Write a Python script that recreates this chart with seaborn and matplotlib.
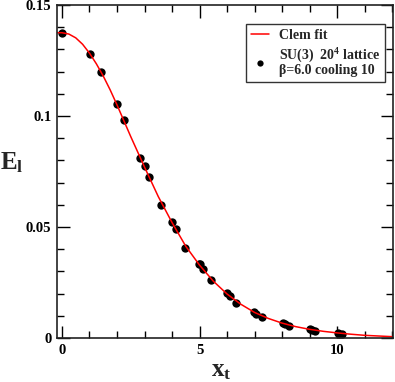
import numpy as np
import pandas as pd
import matplotlib
matplotlib.use("Agg")
import matplotlib.pyplot as plt
from matplotlib.ticker import MultipleLocator
import seaborn as sns

# lattice data
x_t = [0.0, 1.01, 1.43, 1.99, 2.25, 2.84, 3.0, 3.18, 3.61, 3.99, 4.13, 4.48,
       4.97, 5.02, 5.12, 5.4, 6.0, 6.1, 6.34, 6.98, 7.05, 7.28, 8.03, 8.1,
       8.25, 9.02, 9.09, 9.21, 10.02, 10.07, 10.19]
E_l = [0.1373, 0.1281, 0.1198, 0.1052, 0.0984, 0.0811, 0.0775, 0.0725,
       0.0598, 0.0523, 0.0490, 0.0407, 0.0332, 0.0333, 0.0312, 0.0259,
       0.0201, 0.0189, 0.0157, 0.0118, 0.0110, 0.0094, 0.0068, 0.0062,
       0.0054, 0.0039, 0.0036, 0.0030, 0.0023, 0.0020, 0.0018]

# Clem fit curve
fit_x = [-0.2, 0.0, 0.25, 0.5, 0.75, 1.0, 1.25, 1.5, 1.75, 2.0, 2.5, 3.0,
         3.5, 4.0, 4.5, 5.0, 5.5, 6.0, 6.5, 7.0, 7.5, 8.0, 8.5, 9.0, 9.5,
         10.0, 10.5, 11.0, 11.5, 12.0]
fit_y = [0.1375, 0.1375, 0.1369, 0.1352, 0.1323, 0.1283, 0.1235, 0.1180,
         0.1118, 0.1050, 0.0907, 0.0770, 0.0637, 0.0520, 0.0413, 0.0328,
         0.0256, 0.0198, 0.0152, 0.0115, 0.0088, 0.0067, 0.0051, 0.0039,
         0.0030, 0.0023, 0.0017, 0.0012, 0.0009, 0.0006]

pts = pd.DataFrame({"x": x_t, "E": E_l})
fit = pd.DataFrame({"x": fit_x, "E": fit_y})

sns.set_style("ticks")
plt.rcParams["font.family"] = ["Liberation Serif", "DejaVu Serif"]
plt.rcParams["font.weight"] = "bold"
plt.rcParams["mathtext.fontset"] = "custom"
plt.rcParams["mathtext.rm"] = "Liberation Serif:bold"
plt.rcParams["mathtext.bf"] = "Liberation Serif:bold"
plt.rcParams["mathtext.it"] = "Liberation Serif:bold"

fig = plt.figure(figsize=(3.95, 3.82), dpi=100)
ax = fig.add_axes([0.1443, 0.1152, 0.8507, 0.8718])

sns.lineplot(data=fit, x="x", y="E", color="red", linewidth=1.1, ax=ax,
             label="Clem fit")
sns.scatterplot(data=pts, x="x", y="E", color="black", s=36, linewidth=0,
                ax=ax, label="SU(3)  20$^4$ lattice\n\u03b2=6.0 cooling 10")

ax.set_xlim(-0.18, 12.03)
ax.set_ylim(0, 0.15)
ax.xaxis.set_major_locator(MultipleLocator(5))
ax.xaxis.set_minor_locator(MultipleLocator(1))
ax.yaxis.set_major_locator(MultipleLocator(0.05))
ax.yaxis.set_minor_locator(MultipleLocator(0.01))
ax.set_xticks([0, 5, 10])
ax.set_xticklabels(["0", "5", "10"])
ax.set_yticks([0, 0.05, 0.1, 0.15])
ax.set_yticklabels(["0", "0.05", "0.1", "0.15"])
ax.tick_params(which="both", direction="in", top=True, right=True,
               width=1, labelsize=10.5, colors="black")
ax.tick_params(which="major", length=9, pad=4)
ax.tick_params(which="minor", length=5)
for lab in ax.get_xticklabels() + ax.get_yticklabels():
    lab.set_fontweight("bold")
for sp in ax.spines.values():
    sp.set_linewidth(1.2)
    sp.set_color("#222222")

ax.set_xlabel("$\\mathbf{x_t}$", fontsize=18)
ax.set_ylabel("$\\mathbf{E_l}$", fontsize=18, rotation=0)
ax.xaxis.set_label_coords(0.49, -0.065)
ax.yaxis.set_label_coords(-0.135, 0.49)

leg = ax.legend(loc="upper right", bbox_to_anchor=(0.976, 0.943),
                frameon=True, fancybox=False, fontsize=10, handlelength=1.3,
                handletextpad=0.7, borderpad=0.35, labelspacing=0.35,
                borderaxespad=0, markerscale=0.75)
leg.get_frame().set_edgecolor("black")
leg.get_frame().set_linewidth(1.0)
for t in leg.get_texts():
    t.set_fontweight("bold")
    t.set_linespacing(0.95)

fig.savefig("out.png", dpi=100)
